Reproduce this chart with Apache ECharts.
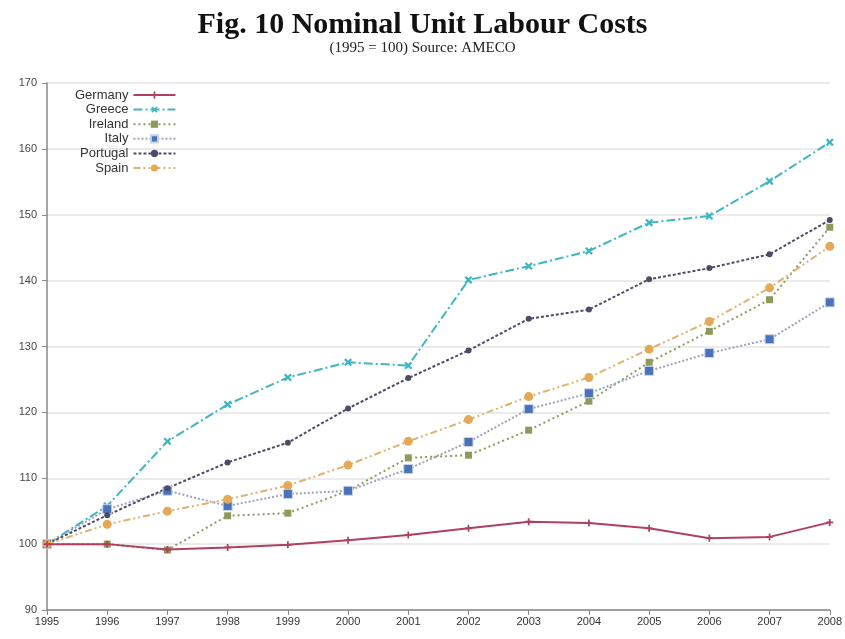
<!DOCTYPE html>
<html><head><meta charset="utf-8">
<script src="https://cdn.jsdelivr.net/npm/echarts@6/dist/echarts.min.js"></script>
<style>html,body{margin:0;padding:0;background:#fff}#c{width:845px;height:639px}</style>
</head><body><div id="c"></div>
<script>
const years = ['1995','1996','1997','1998','1999','2000','2001','2002','2003','2004','2005','2006','2007','2008'];
const germany  = [100,100,99.2,99.5,99.9,100.6,101.4,102.4,103.4,103.2,102.4,100.9,101.1,103.3];
const greece   = [100,105.8,115.6,121.2,125.3,127.6,127.1,140.1,142.2,144.5,148.8,149.8,155.1,161];
const ireland  = [100,100,99.1,104.3,104.7,108.1,113.1,113.5,117.3,121.7,127.6,132.3,137.1,148.1];
const italy    = [100,105.3,108.1,105.8,107.6,108.1,111.4,115.5,120.5,122.9,126.3,129,131.1,136.7];
const portugal = [100,104.4,108.5,112.4,115.4,120.6,125.2,129.4,134.2,135.6,140.2,141.9,144,149.2];
const spain    = [100,103,105,106.8,108.9,112,115.6,118.9,122.4,125.3,129.6,133.8,138.9,145.2];

const plus = 'path://M3,0h2v8h-2zM0,3h8v2h-8z';
function s(name, data, color, type, symbol, size, extra) {
  return Object.assign({
    name, type:'line', data, symbol, symbolSize:size,
    lineStyle:{color, width:2, type},
    itemStyle:{color},
    z: 2
  }, extra||{});
}
const chart = echarts.init(document.getElementById('c'));
chart.setOption({
  animation:false,
  title:{
    text:'Fig. 10 Nominal Unit Labour Costs',
    subtext:'(1995 = 100) Source: AMECO',
    left:'center', top:5, itemGap:1,
    textStyle:{fontFamily:'Liberation Serif, DejaVu Serif, serif', fontWeight:'bold', fontSize:30, color:'#111'},
    subtextStyle:{fontFamily:'Liberation Serif, DejaVu Serif, serif', fontSize:15, color:'#222'}
  },
  legend:{
    orient:'vertical', left:70, top:83, align:'right', itemGap:0.6,
    itemWidth:42, itemHeight:9,
    textStyle:{fontFamily:'Liberation Sans, Arial, sans-serif', fontSize:13, lineHeight:14, color:'#333'},
    data:['Germany','Greece','Ireland','Italy','Portugal','Spain']
  },
  grid:{left:47, right:15, top:83, bottom:29, containLabel:false},
  xAxis:{
    type:'category', data:years, boundaryGap:false,
    axisLine:{lineStyle:{color:'#888', width:1.5}},
    axisTick:{show:true, alignWithLabel:true, length:5, lineStyle:{color:'#888'}},
    axisLabel:{color:'#333', fontFamily:'Liberation Sans, Arial, sans-serif', fontSize:11, margin:6},
    splitLine:{show:false}
  },
  yAxis:{
    type:'value', min:90, max:170, interval:10,
    axisLine:{show:true, lineStyle:{color:'#888', width:1.5}},
    axisTick:{show:true, length:5, lineStyle:{color:'#888'}},
    axisLabel:{color:'#444', fontFamily:'Liberation Sans, Arial, sans-serif', fontSize:11, margin:10},
    splitLine:{lineStyle:{color:'#e4e4e4', width:1.5}}
  },
  series:[
    s('Germany', germany, '#b0405e', 'solid', plus, 7, {z:3}),
    s('Greece', greece, '#3eb6c2', [9,3,2,3], plus, 9, {symbolRotate:45}),
    s('Ireland', ireland, '#8e9a5c', [2,3], 'rect', 7),
    s('Italy', italy, '#4a72b8', [2,2], 'rect', 9, {lineStyle:{color:'#9aa4b8', width:2, type:[2,2]}, itemStyle:{color:'#4a72b8', borderColor:'#c8d4ec', borderWidth:1}}),
    s('Portugal', portugal, '#4c4c68', [3,2], 'circle', 6),
    s('Spain', spain, '#e0a250', [7,3,2,3,2,3], 'circle', 9, {lineStyle:{color:'#e0b070', width:2, type:[7,3,2,3,2,3]}, itemStyle:{color:'#e5a855'}})
  ]
});
</script></body></html>
